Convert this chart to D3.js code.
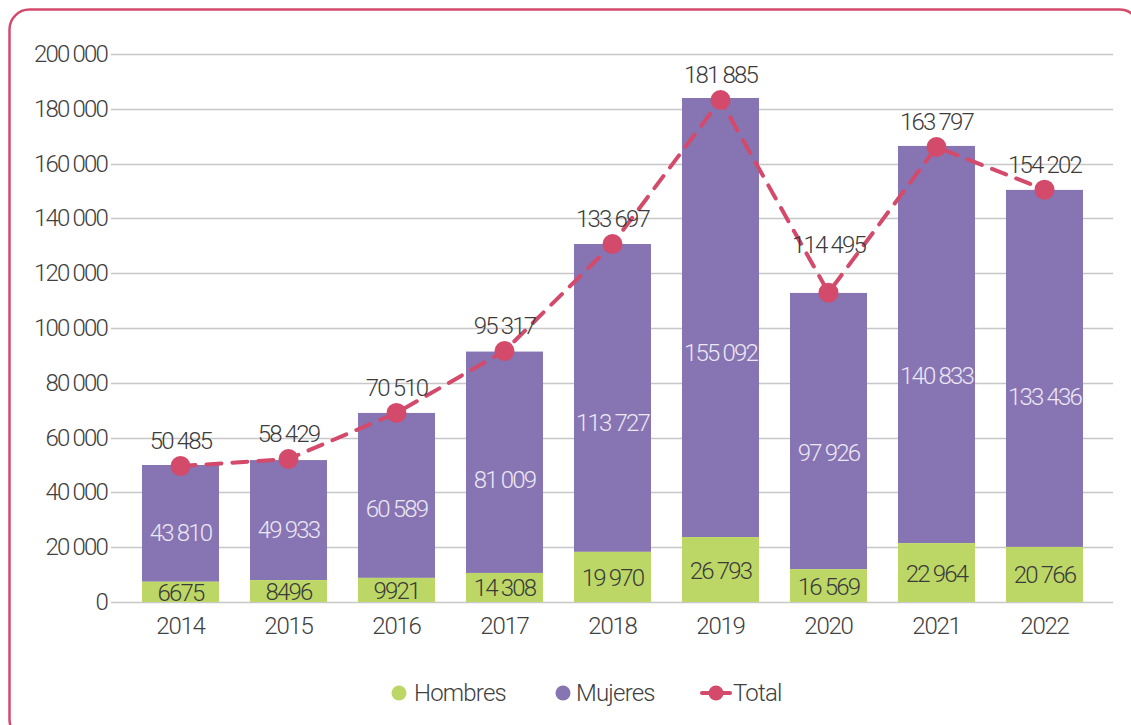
<!DOCTYPE html>
<html>
<head>
<meta charset="utf-8">
<script src="https://cdn.jsdelivr.net/npm/d3@7/dist/d3.min.js"></script>
<style>
  html, body { margin: 0; padding: 0; background: #ffffff; }
  svg { display: block; }
  text { font-family: Roboto, "Open Sans", sans-serif; font-weight: 300; }
</style>
</head>
<body>
<svg id="chart" width="1131" height="725"></svg>
<script>
// ---- Data ----
const years = ["2014", "2015", "2016", "2017", "2018", "2019", "2020", "2021", "2022"];
// printed labels
const hombresLabels = [6675, 8496, 9921, 14308, 19970, 26793, 16569, 22964, 20766];
const mujeresLabels = [43810, 49933, 60589, 81009, 113727, 155092, 97926, 140833, 133436];
const totalLabels = [50485, 58429, 70510, 95317, 133697, 181885, 114495, 163797, 154202];
// heights as drawn in the picture
const hombresDrawn = [7400, 8000, 8800, 10600, 18300, 23700, 12000, 21500, 20100];
const mujeresDrawn = [42600, 43800, 60200, 80800, 112350, 160250, 100800, 144950, 130300];
const totalDrawn = [49600, 52200, 69000, 91600, 130650, 183200, 112900, 166050, 150500];
const yTicks = [0, 20000, 40000, 60000, 80000, 100000, 120000, 140000, 160000, 180000, 200000];
const seriesNames = ["Hombres", "Mujeres", "Total"];

// ---- Style / layout ----
const colHombres = "#bdd766";
const colMujeres = "#8774b3";
const colTotal = "#d34a6b";
const textDark = "#3b3b3b";
const totalLabelNudge = { "2020": -23 };
const FS = 24, LS = -1.8;

const svg = d3.select("#chart");

// frame
svg.append("rect")
  .attr("x", 9.5).attr("y", 9.5)
  .attr("width", 1130).attr("height", 730)
  .attr("rx", 20).attr("ry", 20)
  .attr("fill", "none")
  .attr("stroke", colTotal)
  .attr("stroke-width", 2.5);

const x = d3.scaleBand().domain(years).range([126.5, 1098.5])
  .paddingInner(0.287).paddingOuter(0.1435);
const y = d3.scaleLinear().domain([0, 200000]).range([602, 54]);

const grouped = d3.formatLocale({ decimal: ",", thousands: " ", grouping: [3] }).format(",");
const fmt = v => v < 10000 ? String(v) : grouped(v);

// gridlines
svg.append("g").selectAll("line").data(yTicks).join("line")
  .attr("x1", 111).attr("x2", 1113)
  .attr("y1", d => Math.round(y(d)) + 0.5).attr("y2", d => Math.round(y(d)) + 0.5)
  .attr("stroke", "#c8c8c8").attr("stroke-width", 1.5);

// y labels
svg.append("g").selectAll("text").data(yTicks).join("text")
  .attr("x", 107).attr("y", d => y(d))
  .attr("text-anchor", "end").attr("dominant-baseline", "central")
  .attr("font-size", FS).attr("letter-spacing", LS)
  .attr("fill", "#404040")
  .text(d => fmt(d));

// x labels
svg.append("g").selectAll("text").data(years).join("text")
  .attr("x", d => x(d) + x.bandwidth() / 2).attr("y", 626)
  .attr("text-anchor", "middle").attr("dominant-baseline", "central")
  .attr("font-size", FS).attr("letter-spacing", -1.2)
  .attr("fill", "#404040")
  .text(d => d);

// bars
const rows = years.map((yr, i) => ({
  yr, h: hombresDrawn[i], m: mujeresDrawn[i], t: totalDrawn[i],
  hl: hombresLabels[i], ml: mujeresLabels[i], tl: totalLabels[i]
}));

svg.append("g").selectAll("rect").data(rows).join("rect")
  .attr("x", d => x(d.yr)).attr("width", x.bandwidth())
  .attr("y", d => y(d.h + d.m)).attr("height", d => y(d.h) - y(d.h + d.m))
  .attr("fill", colMujeres);
svg.append("g").selectAll("rect").data(rows).join("rect")
  .attr("x", d => x(d.yr)).attr("width", x.bandwidth())
  .attr("y", d => y(d.h)).attr("height", d => y(0) - y(d.h))
  .attr("fill", colHombres);

// bar labels
svg.append("g").selectAll("text").data(rows).join("text")
  .attr("x", d => x(d.yr) + x.bandwidth() / 2)
  .attr("y", d => y(d.h + d.m) + 0.58 * (y(d.h) - y(d.h + d.m)))
  .attr("text-anchor", "middle").attr("dominant-baseline", "central")
  .attr("font-size", FS).attr("letter-spacing", LS)
  .attr("fill", "#ece8f3")
  .text(d => fmt(d.ml));
svg.append("g").selectAll("text").data(rows).join("text")
  .attr("x", d => x(d.yr) + x.bandwidth() / 2)
  .attr("y", d => (y(0) + y(d.h)) / 2 + 1)
  .attr("text-anchor", "middle").attr("dominant-baseline", "central")
  .attr("font-size", FS).attr("letter-spacing", LS)
  .attr("fill", textDark)
  .text(d => fmt(d.hl));

// total line
const line = d3.line().x(d => x(d.yr) + x.bandwidth() / 2).y(d => y(d.t));
svg.append("path").datum(rows)
  .attr("d", line).attr("fill", "none")
  .attr("stroke", colTotal).attr("stroke-width", 4)
  .attr("stroke-dasharray", "15,11").attr("stroke-linecap", "round");
svg.append("g").selectAll("circle").data(rows).join("circle")
  .attr("cx", d => x(d.yr) + x.bandwidth() / 2).attr("cy", d => y(d.t))
  .attr("r", 10).attr("fill", colTotal);
svg.append("g").selectAll("text").data(rows).join("text")
  .attr("x", d => x(d.yr) + x.bandwidth() / 2)
  .attr("y", d => y(d.t) - 25 + (totalLabelNudge[d.yr] || 0))
  .attr("text-anchor", "middle").attr("dominant-baseline", "central")
  .attr("font-size", FS).attr("letter-spacing", LS)
  .attr("fill", textDark)
  .text(d => fmt(d.tl));

// legend
const legendY = 693;
const lg = svg.append("g");
const legendItems = [
  { name: seriesNames[0], color: colHombres, type: "dot", mx: 399, tx: 414 },
  { name: seriesNames[1], color: colMujeres, type: "dot", mx: 563, tx: 576 },
  { name: seriesNames[2], color: colTotal, type: "line", mx: 716, tx: 733 }
];
legendItems.forEach(it => {
  if (it.type === "line") {
    lg.append("line").attr("x1", it.mx - 14).attr("x2", it.mx + 14)
      .attr("y1", legendY).attr("y2", legendY)
      .attr("stroke", it.color).attr("stroke-width", 4).attr("stroke-linecap", "round");
  }
  lg.append("circle").attr("cx", it.mx).attr("cy", legendY).attr("r", 7.5).attr("fill", it.color);
  lg.append("text").attr("x", it.tx).attr("y", legendY)
    .attr("dominant-baseline", "central").attr("font-size", FS).attr("letter-spacing", -0.8)
    .attr("fill", "#404040").text(it.name);
});
</script>
</body>
</html>
